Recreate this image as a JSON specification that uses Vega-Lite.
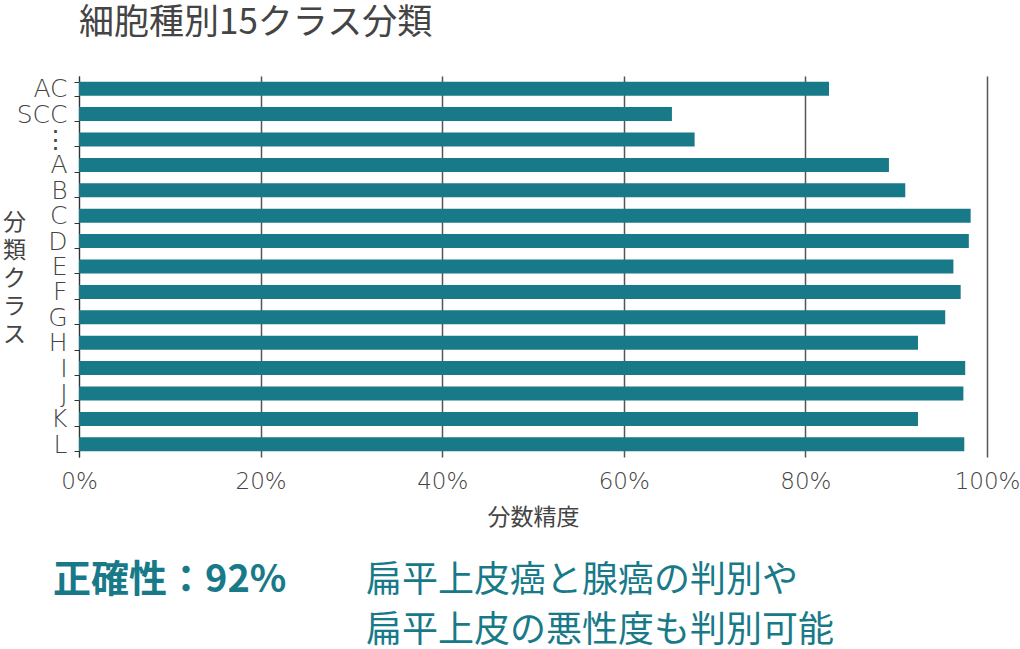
{
  "$schema": "https://vega.github.io/schema/vega-lite/v6.json",
  "background": "white",
  "padding": {"left": 2, "top": 6, "right": 2, "bottom": 0},
  "config": {
    "font": "Noto Sans CJK JP",
    "view": {"stroke": null}
  },
  "spacing": 33,
  "vconcat": [
    {
      "width": 908,
      "height": 381,
      "title": {
        "text": "細胞種別15クラス分類",
        "anchor": "start",
        "frame": "group",
        "fontSize": 35,
        "fontWeight": "normal",
        "color": "#444444",
        "offset": 23
      },
      "data": {
        "values": [
          {"class": "AC", "accuracy": 0.826},
          {"class": "SCC", "accuracy": 0.653},
          {"class": "⋮", "accuracy": 0.678},
          {"class": "A", "accuracy": 0.892},
          {"class": "B", "accuracy": 0.910},
          {"class": "C", "accuracy": 0.982},
          {"class": "D", "accuracy": 0.980},
          {"class": "E", "accuracy": 0.963},
          {"class": "F", "accuracy": 0.971},
          {"class": "G", "accuracy": 0.954},
          {"class": "H", "accuracy": 0.924},
          {"class": "I", "accuracy": 0.976},
          {"class": "J", "accuracy": 0.974},
          {"class": "K", "accuracy": 0.924},
          {"class": "L", "accuracy": 0.975}
        ]
      },
      "mark": {"type": "bar", "color": "#187a89"},
      "encoding": {
        "y": {
          "field": "class",
          "type": "nominal",
          "sort": null,
          "scale": {"paddingInner": 0.45, "paddingOuter": 0.225},
          "axis": {
            "title": ["分", "類", "ク", "ラ", "ス"],
            "titleAngle": 0,
            "titleAlign": "center",
            "titleBaseline": "middle",
            "titleX": -65,
            "titleY": 146,
            "titleFontSize": 23,
            "titleFontWeight": "normal",
            "titleLineHeight": 28,
            "titleColor": "#444444",
            "labelFont": "DejaVu Sans",
            "labelFontWeight": 200,
            "labelFontSize": 25,
            "labelColor": "#444444",
            "labelPadding": 7,
            "tickBand": "extent",
            "tickSize": 5,
            "tickColor": "#333333",
            "domainColor": "#333333",
            "grid": false
          }
        },
        "x": {
          "field": "accuracy",
          "type": "quantitative",
          "scale": {"domain": [0, 1]},
          "axis": {
            "title": "分数精度",
            "titleFontSize": 23,
            "titleFontWeight": "normal",
            "titleColor": "#444444",
            "titlePadding": 13,
            "values": [0, 0.2, 0.4, 0.6, 0.8, 1],
            "format": ".0%",
            "labelFont": "DejaVu Sans",
            "labelFontWeight": 200,
            "labelFontSize": 23,
            "labelColor": "#444444",
            "labelPadding": 13,
            "labelFlush": false,
            "domain": false,
            "ticks": false,
            "grid": true,
            "gridColor": "#555555",
            "gridWidth": 1.5
          }
        }
      }
    },
    {
      "width": 287,
      "height": 50,
      "data": {
        "values": [
          {"text": "正確性：92%", "col": 0, "line": 1, "kind": "key"},
          {"text": "扁平上皮癌と腺癌の判別や", "col": 1, "line": 1, "kind": "note"},
          {"text": "扁平上皮の悪性度も判別可能", "col": 1, "line": 2, "kind": "note"}
        ]
      },
      "encoding": {
        "x": {"field": "col", "type": "quantitative", "scale": {"domain": [0, 1]}, "axis": null},
        "y": {"field": "line", "type": "quantitative", "scale": {"domain": [1, 2], "reverse": true}, "axis": null},
        "text": {"field": "text"}
      },
      "layer": [
        {
          "transform": [{"filter": "datum.kind == 'key'"}],
          "mark": {"type": "text", "align": "left", "baseline": "middle", "dx": -26, "fontSize": 38, "fontWeight": "bold", "color": "#187a89"}
        },
        {
          "transform": [{"filter": "datum.kind == 'note'"}],
          "mark": {"type": "text", "align": "left", "baseline": "middle", "fontSize": 36, "color": "#187a89"}
        }
      ]
    }
  ]
}
